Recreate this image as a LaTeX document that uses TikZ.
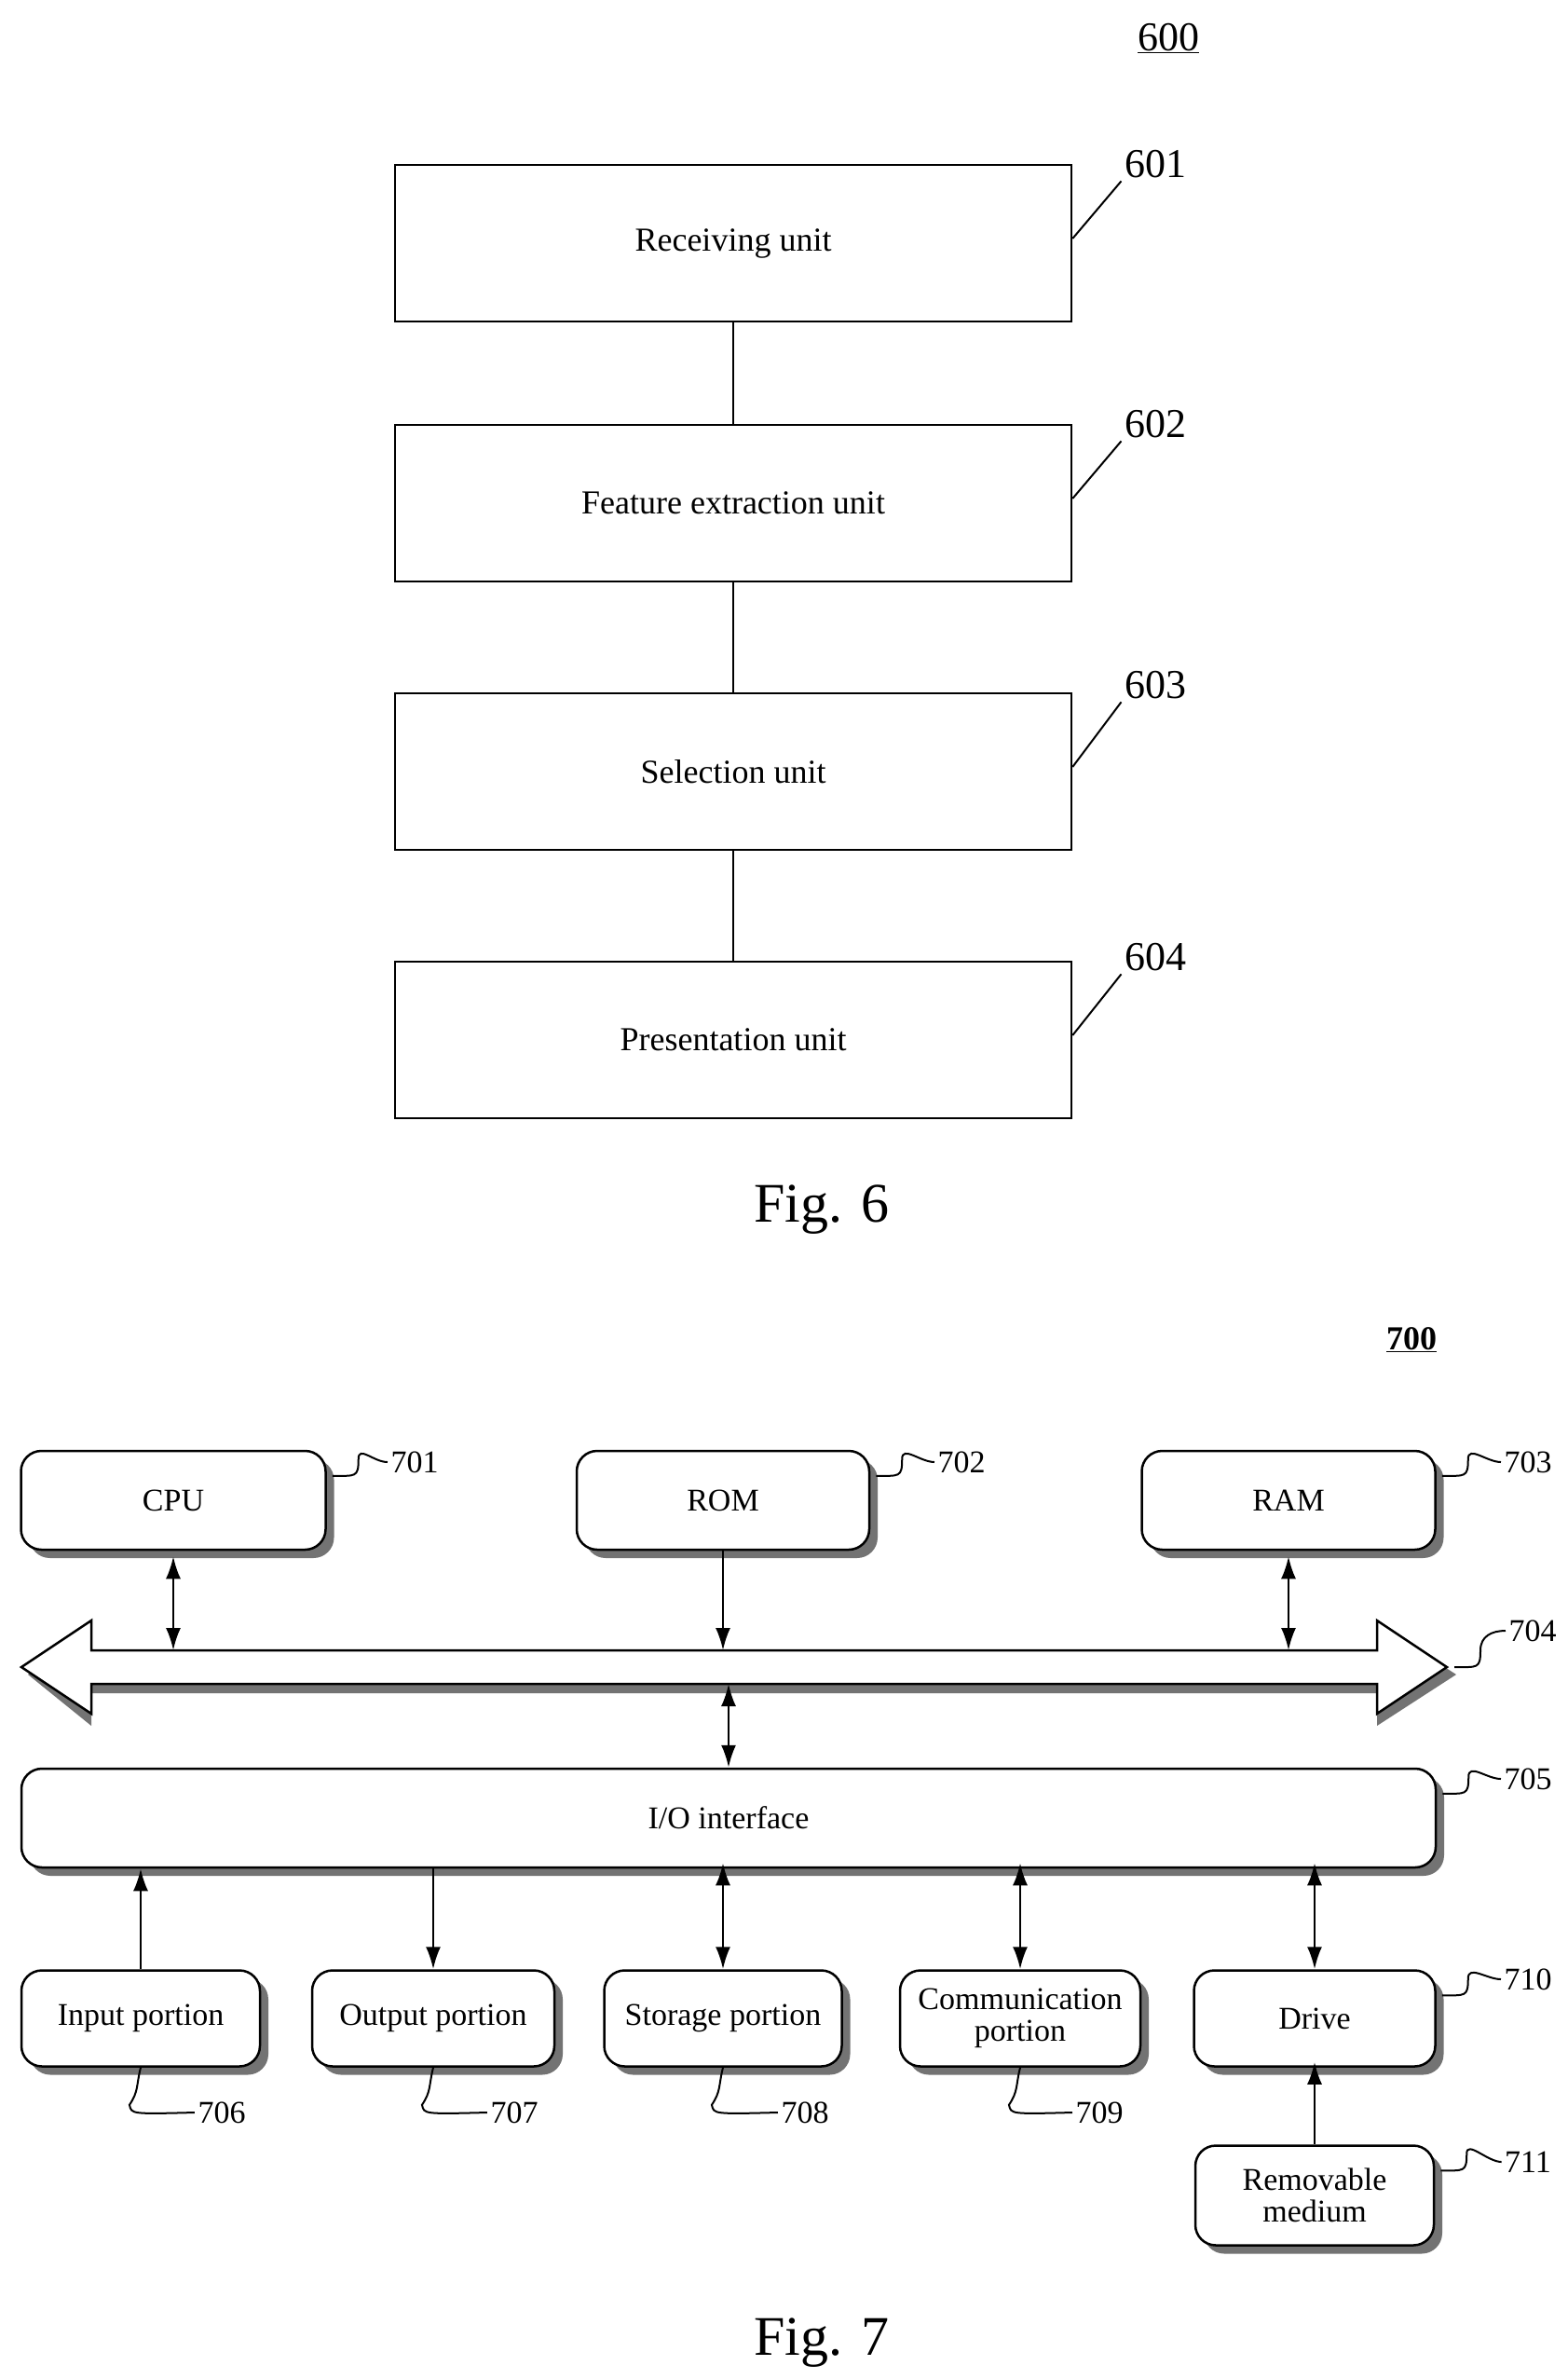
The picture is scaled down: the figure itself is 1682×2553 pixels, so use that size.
\documentclass[tikz,border=0pt]{standalone}
\usepackage{fontspec}
\setmainfont{Liberation Serif}
\usetikzlibrary{arrows.meta,shapes,shadows,positioning}

\tikzset{
  unit/.style={draw, line width=2.5pt, minimum width=726pt, minimum height=168pt, font=\fontsize{36}{40}\selectfont},
  rbox/.style={draw, line width=2.5pt, rounded corners=22pt, fill=white,
    drop shadow={shadow xshift=9pt, shadow yshift=-9pt, fill=black!55, opacity=1},
    font=\fontsize{34}{40}\selectfont, align=center},
  lbl/.style={font=\fontsize{34}{40}\selectfont},
  lead/.style={line width=2pt},
  link/.style={line width=2.5pt, -{Latex[length=24pt,width=16pt]}},
  dlink/.style={line width=2.5pt, {Latex[length=24pt,width=16pt]}-{Latex[length=24pt,width=16pt]}},
}

\begin{document}
\begin{tikzpicture}[x=1pt,y=-1pt]
\useasboundingbox (0,0) rectangle (1682,2553);

% Fig. 6
\node[font=\fontsize{44}{48}\selectfont] (n600) at (1254,41) {\underline{600}};
\node[unit] (recv) at (787,261) {Receiving unit};
\node[unit] (feat) at (787,540) {Feature extraction unit};
\node[unit] (sel) at (787,828) {Selection unit};
\node[unit] (pres) at (787,1116) {Presentation unit};
\draw[line width=2.5pt] (recv) -- (feat) (feat) -- (sel) (sel) -- (pres);

\node[font=\fontsize{44}{48}\selectfont] (n601) at (1240,176) {601};
\node[font=\fontsize{44}{48}\selectfont] (n602) at (1240,455) {602};
\node[font=\fontsize{44}{48}\selectfont] (n603) at (1240,735) {603};
\node[font=\fontsize{44}{48}\selectfont] (n604) at (1240,1027) {604};
\foreach \b/\n in {recv/n601,feat/n602,sel/n603,pres/n604}
  \draw[lead] (\b.east) ++(0,-5) -- (\n.south west);

\node[font=\fontsize{60}{64}\selectfont] (fig6) at (882,1298) {Fig. 6};

% Fig. 7
\node[font=\bfseries\fontsize{36}{40}\selectfont] (n700) at (1515,1438) {\underline{700}};

\node[rbox, minimum width=327pt, minimum height=106pt] (cpu) at (186,1610) {CPU};
\node[rbox, minimum width=314pt, minimum height=106pt] (rom) at (776,1610) {ROM};
\node[rbox, minimum width=315pt, minimum height=106pt] (ram) at (1383,1610) {RAM};

% bus
\coordinate (bustop) at (0,1771);
\coordinate (busbot) at (0,1807);
\fill[black!55] (30,1797) -- (98,1742) -- (98,1781) -- (1478,1781) -- (1478,1742) -- (1563,1797) -- (1478,1852) -- (1478,1817) -- (98,1817) -- (98,1852) -- cycle;
\filldraw[fill=white, line width=2.5pt] (23,1789) -- (98,1739) -- (98,1771) -- (1478,1771) -- (1478,1739) -- (1553,1789) -- (1478,1839) -- (1478,1807) -- (98,1807) -- (98,1839) -- cycle;
\coordinate (bustip) at (1553,1789);

\node[rbox, minimum width=1518pt, minimum height=106pt] (io) at (782,1951) {I/O interface};

\node[rbox, minimum width=256pt, minimum height=103pt] (inp) at (151,2166) {Input portion};
\node[rbox, minimum width=260pt, minimum height=103pt] (outp) at (465,2166) {Output portion};
\node[rbox, minimum width=255pt, minimum height=103pt] (stor) at (776,2166) {Storage portion};
\node[rbox, minimum width=258pt, minimum height=103pt] (comm) at (1095,2166) {Communication\\[-6pt]portion};
\node[rbox, minimum width=259pt, minimum height=103pt] (drive) at (1411,2166) {Drive};
\node[rbox, minimum width=256pt, minimum height=107pt] (rem) at (1411,2356) {Removable\\[-6pt]medium};

% connectors
\draw[dlink] ([yshift=-6pt]cpu.south) -- (cpu.south |- bustop);
\draw[link] (rom.south) -- (rom.south |- bustop);
\draw[dlink] ([yshift=-6pt]ram.south) -- (ram.south |- bustop);
\draw[dlink] (busbot -| io.north) -- (io.north);
\draw[link] (inp.north) -- (inp.north |- io.south);
\draw[link] (outp.north |- io.south) -- (outp.north);
\draw[dlink] ([yshift=6pt]stor.north |- io.south) -- (stor.north);
\draw[dlink] ([yshift=6pt]comm.north |- io.south) -- (comm.north);
\draw[dlink] ([yshift=6pt]drive.north |- io.south) -- (drive.north);
\draw[link] (rem.north) -- ([yshift=6pt]drive.south);

% reference numerals
\node[lbl] (n701) at (445,1569) {701};
\node[lbl] (n702) at (1032,1569) {702};
\node[lbl] (n703) at (1640,1569) {703};
\node[lbl] (n704) at (1645,1750) {704};
\node[lbl] (n705) at (1640,1909) {705};
\node[lbl] (n710) at (1640,2124) {710};
\node[lbl] (n711) at (1640,2320) {711};
\node[lbl] (n706) at (238,2267) {706};
\node[lbl] (n707) at (552,2267) {707};
\node[lbl] (n708) at (864,2267) {708};
\node[lbl] (n709) at (1180,2267) {709};

\foreach \b/\n in {cpu/n701,rom/n702,ram/n703,io/n705,drive/n710,rem/n711}
  \draw[lead] ([xshift=6pt,yshift=-28pt]\b.north east) .. controls +(25,0) and +(0,20) .. ++(28,-18) .. controls +(0,-15) and +(-15,0) .. (\n.west);
\draw[lead] ([xshift=8pt]bustip) .. controls +(25,0) and +(0,20) .. ++(28,-18) .. controls +(0,-15) and +(-15,0) .. (n704.west);
\foreach \b/\n in {inp/n706,outp/n707,stor/n708,comm/n709}
  \draw[lead] (\b.south) .. controls +(-5,20) and +(10,-15) .. ++(-12,40) .. controls +(2,10) .. (\n.west);

\node[font=\fontsize{60}{64}\selectfont] (fig7) at (882,2514) {Fig. 7};
\end{tikzpicture}
\end{document}
